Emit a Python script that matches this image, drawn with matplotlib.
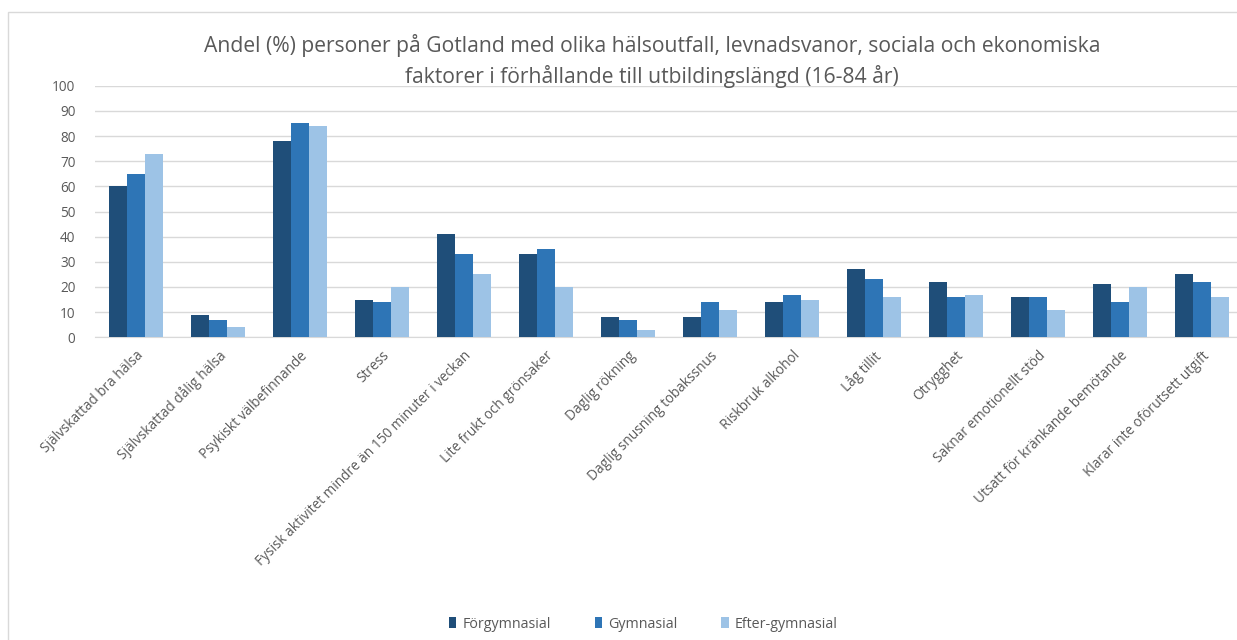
import numpy as np
import matplotlib.pyplot as plt
import matplotlib.patches as patches

kategorier = [
    'Självskattad bra hälsa', 'Självskattad dålig hälsa', 'Psykiskt välbefinnande',
    'Stress', 'Fysisk aktivitet mindre än 150 minuter i veckan',
    'Lite frukt och grönsaker', 'Daglig rökning', 'Daglig snusning tobakssnus',
    'Riskbruk alkohol', 'Låg tillit', 'Otrygghet', 'Saknar emotionellt stöd',
    'Utsatt för kränkande bemötande', 'Klarar inte oförutsett utgift',
]
forgymnasial = [60, 9, 78, 15, 41, 33, 8, 8, 14, 27, 22, 16, 21, 25]
gymnasial = [65, 7, 85, 14, 33, 35, 7, 14, 17, 23, 16, 16, 14, 22]
eftergymnasial = [73, 4, 84, 20, 25, 20, 3, 11, 15, 16, 17, 11, 20, 16]

serier = [('Förgymnasial', forgymnasial, '#1f4e79'),
          ('Gymnasial', gymnasial, '#2e75b6'),
          ('Efter-gymnasial', eftergymnasial, '#9dc3e6')]

plt.rcParams['font.family'] = ['Open Sans', 'DejaVu Sans']
grå = '#595959'

fig = plt.figure(figsize=(12.37, 6.40), dpi=100)
# ram runt diagrammet
fig.add_artist(patches.Rectangle((8 / 1237, -0.01), 1.0, 1 - 12 / 640 + 0.01,
                                 transform=fig.transFigure, fill=False,
                                 edgecolor='#d9d9d9', linewidth=1))

ax = fig.add_axes([95 / 1237, 0.473, 1148 / 1237, 0.393])

x = np.arange(len(kategorier))
b = 0.22
for i, (namn, värden, färg) in enumerate(serier):
    ax.bar(x + (i - 1) * b, värden, width=b, color=färg, label=namn, zorder=3)

ax.set_xlim(-0.5, len(kategorier) - 0.5)
ax.set_ylim(0, 100)
ax.set_yticks(range(0, 101, 10))
ax.yaxis.grid(True, color='#d9d9d9', linewidth=1, zorder=0)
for s in ['top', 'right', 'left']:
    ax.spines[s].set_visible(False)
ax.spines['bottom'].set_color('#d9d9d9')
ax.tick_params(axis='both', length=0, labelsize=9.8, labelcolor=grå)
ax.tick_params(axis='y', pad=14)
ax.tick_params(axis='x', pad=8)
ax.set_xticks(x)
ax.set_xticklabels(kategorier, rotation=45, ha='right', rotation_mode='anchor')

fig.text(0.527, 0.862, 'Andel (%) personer på Gotland med olika hälsoutfall, levnadsvanor, sociala och ekonomiska\n'
         'faktorer i förhållande till utbildingslängd (16-84 år)',
         ha='center', va='bottom', fontsize=15.2, color=grå, linespacing=1.45)

fig.legend(loc='lower center', bbox_to_anchor=(0.52, -0.007), ncol=3, frameon=False,
           fontsize=10.3, labelcolor=grå, handlelength=0.5, handleheight=0.8,
           handletextpad=0.4, columnspacing=3.1)

fig.savefig('out.png', dpi=100)
